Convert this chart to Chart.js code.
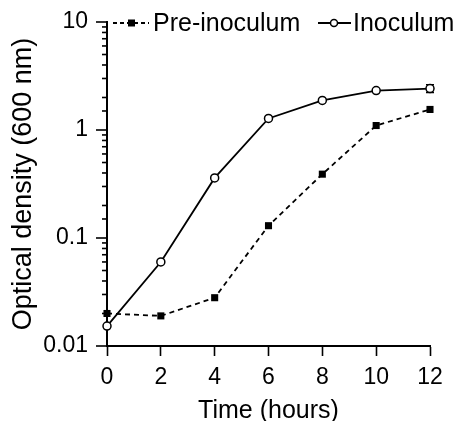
<!DOCTYPE html>
<html>
<head>
<meta charset="utf-8">
<script src="https://cdn.jsdelivr.net/npm/chart.js@4"></script>
<style>
  html, body { margin: 0; padding: 0; background: #fff; }
  #wrap { width: 455px; height: 421px; }
</style>
</head>
<body>
<div id="wrap"><canvas id="growthChart"></canvas></div>
<script>
const hours = [0, 2, 4, 6, 8, 10, 12];
const preInoculum = [0.020, 0.019, 0.028, 0.13, 0.39, 1.10, 1.55];
const inoculum = [0.0153, 0.060, 0.36, 1.28, 1.88, 2.32, 2.42];
const inoculumErr = [0, 0, 0, 0, 0, 0, 0.2];
const xTickStep = 2;
const yTickValues = [0.01, 0.1, 1, 10];
const yTickLabels = ["0.01", "0.1", "1", "10"];

const FONT = "'Liberation Sans', Arial, sans-serif";

function majorLabel(v) {
  const i = yTickValues.findIndex(t => Math.abs(Math.log10(v) - Math.log10(t)) < 1e-6);
  return i >= 0 ? yTickLabels[i] : null;
}

// minor/major ticks on the log axis
const yTickMarks = {
  id: "yTickMarks",
  afterDraw(chart) {
    const y = chart.scales.y;
    const ctx = chart.ctx;
    ctx.save();
    ctx.strokeStyle = "#000";
    ctx.lineWidth = 1.6;
    y.ticks.forEach(t => {
      const py = y.getPixelForValue(t.value);
      const len = majorLabel(t.value) ? 11 : 5;
      ctx.beginPath();
      ctx.moveTo(y.right, py);
      ctx.lineTo(y.right - len, py);
      ctx.stroke();
    });
    ctx.restore();
  }
};

const errorBars = {
  id: "errorBars",
  beforeDatasetsDraw(chart) {
    const { x, y } = chart.scales;
    const ctx = chart.ctx;
    ctx.save();
    ctx.strokeStyle = "#000";
    ctx.lineWidth = 1.5;
    hours.forEach((h, i) => {
      const e = inoculumErr[i];
      if (!e) return;
      const px = x.getPixelForValue(h);
      const top = y.getPixelForValue(inoculum[i] + e);
      const bot = y.getPixelForValue(inoculum[i] - e);
      ctx.beginPath();
      ctx.moveTo(px, top); ctx.lineTo(px, bot);
      ctx.moveTo(px - 4, top); ctx.lineTo(px + 4, top);
      ctx.moveTo(px - 4, bot); ctx.lineTo(px + 4, bot);
      ctx.stroke();
    });
    ctx.restore();
  }
};

const lineLegend = {
  id: "lineLegend",
  afterDraw(chart) {
    const ctx = chart.ctx;
    const left = chart.chartArea.left;
    const cy = 23;
    ctx.save();
    ctx.strokeStyle = "#000";
    ctx.fillStyle = "#000";
    ctx.lineWidth = 1.8;
    // Pre-inoculum
    ctx.setLineDash([4, 3]);
    ctx.beginPath();
    ctx.moveTo(left + 6, cy); ctx.lineTo(left + 42, cy);
    ctx.stroke();
    ctx.setLineDash([]);
    ctx.fillRect(left + 21, cy - 3.5, 7, 7);
    ctx.font = "25px " + FONT;
    ctx.textBaseline = "middle";
    ctx.fillText("Pre-inoculum", left + 46, cy + 1);
    // Inoculum
    ctx.beginPath();
    ctx.moveTo(left + 211, cy); ctx.lineTo(left + 244, cy);
    ctx.stroke();
    ctx.beginPath();
    ctx.arc(left + 227, cy, 3.5, 0, Math.PI * 2);
    ctx.fillStyle = "#fff";
    ctx.fill();
    ctx.lineWidth = 1.5;
    ctx.stroke();
    ctx.fillStyle = "#000";
    ctx.fillText("Inoculum", left + 246, cy + 1);
    ctx.restore();
  }
};

const ctx = document.getElementById("growthChart").getContext("2d");
new Chart(ctx, {
  type: "line",
  data: {
    datasets: [
      {
        label: "Pre-inoculum",
        data: hours.map((h, i) => ({ x: h, y: preInoculum[i] })),
        borderColor: "#000",
        backgroundColor: "#000",
        borderWidth: 1.8,
        borderDash: [5, 4],
        pointStyle: "rect",
        pointRadius: 5,
        pointBorderWidth: 0,
        tension: 0,
        clip: false
      },
      {
        label: "Inoculum",
        data: hours.map((h, i) => ({ x: h, y: inoculum[i] })),
        borderColor: "#000",
        backgroundColor: "#000",
        pointBackgroundColor: "#fff",
        borderWidth: 1.8,
        pointStyle: "circle",
        pointRadius: 4,
        pointBorderWidth: 1.5,
        tension: 0,
        clip: false
      }
    ]
  },
  options: {
    responsive: true,
    maintainAspectRatio: false,
    animation: false,
    layout: { padding: { top: 22, right: 25, left: 0, bottom: 0 } },
    plugins: {
      legend: { display: false },
      tooltip: { enabled: false }
    },
    scales: {
      x: {
        type: "linear",
        min: 0,
        max: 12,
        afterFit: s => { s.height = 75; },
        ticks: {
          stepSize: xTickStep,
          color: "#000",
          padding: 8,
          font: { family: FONT, size: 23 }
        },
        grid: {
          display: true,
          drawOnChartArea: false,
          drawTicks: true,
          tickLength: 10,
          tickColor: "#000",
          tickWidth: 1.6
        },
        border: { display: true, color: "#000", width: 2 },
        title: {
          display: true,
          text: "Time (hours)",
          color: "#000",
          font: { family: FONT, size: 25, lineHeight: 1 },
          padding: { top: 0, bottom: -3 }
        }
      },
      y: {
        type: "logarithmic",
        min: 0.01,
        max: 10,
        afterFit: s => { s.width = 107; },
        ticks: {
          autoSkip: false,
          color: "#000",
          padding: 8,
          font: { family: FONT, size: 23 },
          callback: v => majorLabel(v) || ""
        },
        grid: { display: false, drawTicks: true, tickLength: 11 },
        border: { display: true, color: "#000", width: 2 },
        title: {
          display: true,
          text: "Optical density (600 nm)",
          color: "#000",
          font: { family: FONT, size: 27, lineHeight: 1 },
          padding: { top: 10, bottom: 0 }
        }
      }
    }
  },
  plugins: [yTickMarks, errorBars, lineLegend]
});
</script>
</body>
</html>
